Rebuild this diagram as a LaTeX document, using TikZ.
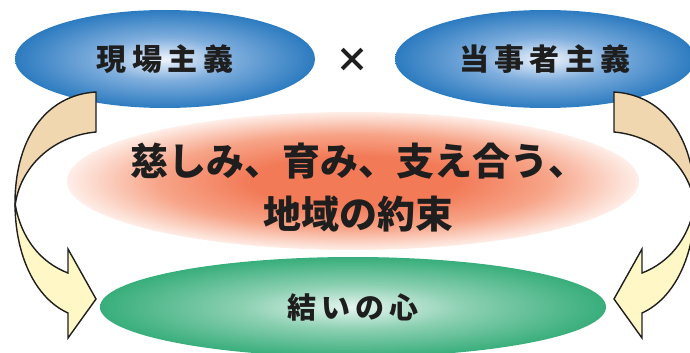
\documentclass[tikz,border=0pt]{standalone}
\usepackage{fontspec}
\usetikzlibrary{shapes.geometric}
\newfontfamily\jpserif[LetterSpace=18]{Noto Sans CJK JP}
\newfontfamily\jpround{Noto Sans CJK JP}
\definecolor{blueout}{HTML}{2C7BC0}
\definecolor{bluemid}{HTML}{7FAEDD}
\definecolor{bluein}{HTML}{F0F4FC}
\definecolor{redin}{HTML}{F27A57}
\definecolor{redmid}{HTML}{F7A488}
\definecolor{redout}{HTML}{FEEEE8}
\definecolor{greenout}{HTML}{38AE7B}
\definecolor{greenmid}{HTML}{8CD0B2}
\definecolor{greenin}{HTML}{E6F5F0}
\definecolor{tanfill}{HTML}{F0D7AF}
\definecolor{yelfill}{HTML}{FFF8C6}
\definecolor{ink}{HTML}{1E1E1E}
\pgfdeclareradialshading{blueglow}{\pgfpoint{0bp}{0bp}}{color(0bp)=(bluein); color(11bp)=(bluemid); color(25bp)=(blueout); color(50bp)=(blueout)}
\pgfdeclareradialshading{redglow}{\pgfpoint{0bp}{0bp}}{color(0bp)=(redin); color(9bp)=(redin); color(17bp)=(redmid); color(25bp)=(redout); color(50bp)=(redout)}
\pgfdeclareradialshading{greenglow}{\pgfpoint{0bp}{0bp}}{color(0bp)=(greenin); color(11bp)=(greenmid); color(25bp)=(greenout); color(50bp)=(greenout)}
\begin{document}
\begin{tikzpicture}[x=1pt,y=-1pt,
  bubble/.style={ellipse, inner sep=0pt, outer sep=0pt, draw=none},
  bluebubble/.style={bubble, minimum width=300pt, minimum height=98pt,
    shading=blueglow, text=ink,
    font=\jpserif\bfseries\fontsize{30}{30}\selectfont},
  arrowline/.style={draw=ink, line width=1.4pt, line join=miter}]
\clip (0,0) rectangle (690,353);
% blue ellipses
\node[bluebubble] (genba) at (165,59) {現場主義};
\node[bluebubble] (tojisha) at (545,59) {当事者主義};
\node[text=ink, font=\jpround\bfseries\fontsize{34}{34}\selectfont] (times) at (352,60) {×};
% red ellipse
\node[bubble, minimum width=572pt, minimum height=138pt,
  shading=redglow] (promise) at (353,181) {};
\node[text=ink, align=center, font=\jpround\bfseries\fontsize{38}{53}\selectfont] (promisetext) at (358,188)
  {慈しみ、育み、支え合う、\\地域の約束};
% green ellipse
\node[bubble, minimum width=506pt, minimum height=100pt,
  shading=greenglow, text=ink,
  font=\jpserif\bfseries\fontsize{29}{29}\selectfont] (yui) at (353,307) {結いの心};
% left curved arrow
\path[arrowline, fill=yelfill] (15,203) .. controls (15,255) and (35,298) .. (68,313)
  -- (68,338) -- (96,299) -- (68,249) -- (68,273)
  .. controls (42,263) and (21,240) .. (15,203) -- cycle;
\path[arrowline, fill=tanfill] (96,92) .. controls (45,95) and (14,140) .. (15,207)
  .. controls (19,168) and (52,136) .. (96,132) -- cycle;
% right curved arrow (mirror)
\begin{scope}[xshift=710pt, xscale=-1]
\path[arrowline, fill=yelfill] (15,203) .. controls (15,255) and (35,298) .. (68,313)
  -- (68,338) -- (96,299) -- (68,249) -- (68,273)
  .. controls (42,263) and (21,240) .. (15,203) -- cycle;
\path[arrowline, fill=tanfill] (96,92) .. controls (45,95) and (14,140) .. (15,207)
  .. controls (19,168) and (52,136) .. (96,132) -- cycle;
\end{scope}
\end{tikzpicture}
\end{document}
